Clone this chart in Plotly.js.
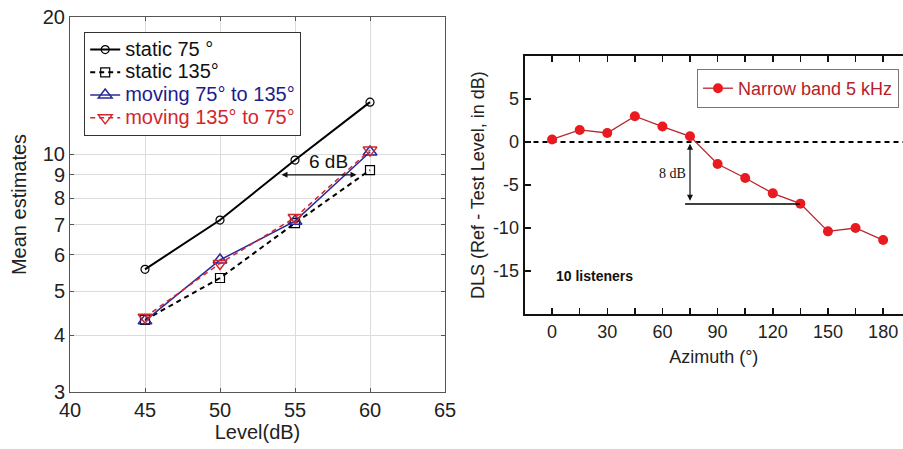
<!DOCTYPE html>
<html>
<head>
<meta charset="utf-8">
<script src="https://cdn.plot.ly/plotly-3.0.1.min.js"></script>
<style>html,body{margin:0;padding:0;background:#fff;}#chart{width:903px;height:449px;}</style>
</head>
<body>
<div id="chart"></div>
<script>
// ---- Left panel data ----
const levels = [45, 50, 55, 60];
const static75 = [5.58, 7.16, 9.70, 13.0];
const static135 = [4.32, 5.34, 7.05, 9.22];
const moving75to135 = [4.30, 5.85, 7.12, 10.1];
const moving135to75 = [4.38, 5.75, 7.25, 10.2];
const leftXTicks = [40, 45, 50, 55, 60, 65];
const leftYTicks = [3, 4, 5, 6, 7, 8, 9, 10, 20];
const leftNames = ['static 75 °', 'static 135°', 'moving 75° to 135°', 'moving 135° to 75°'];

// ---- Right panel data ----
const azimuth = [0, 15, 30, 45, 60, 75, 90, 105, 120, 135, 150, 165, 180];
const dls = [0.3, 1.4, 1.05, 3.0, 1.8, 0.66, -2.56, -4.19, -5.97, -7.17, -10.39, -10.0, -11.4];
const rightXTickVals = [0, 15, 30, 45, 60, 75, 90, 105, 120, 135, 150, 165, 180];
const rightXTickText = ['0', '', '30', '', '60', '', '90', '', '120', '', '150', '', '180'];
const rightYTickVals = [-15, -10, -5, 0, 5];
const rightYTickText = ['-15', '-10', '-5', '0', '5'];
const rightName = 'Narrow band 5 kHz';

const FONT = 'Liberation Sans, Arial, sans-serif';
const L = Math.log10;
const big = (t, c) => '<span style="font-size:20px;color:' + c + '">' + t + '</span>';

const traces = [
  {x: levels, y: static75, name: big(leftNames[0], '#111'), xaxis: 'x', yaxis: 'y', mode: 'lines+markers',
   line: {color: '#000', width: 2}, marker: {symbol: 'circle-open', size: 8, color: '#000', line: {width: 1.2}}},
  {x: levels, y: static135, name: big(leftNames[1], '#111'), xaxis: 'x', yaxis: 'y', mode: 'lines+markers',
   line: {color: '#000', width: 2, dash: '5px,4px'}, marker: {symbol: 'square-open', size: 9, color: '#000', line: {width: 1.2}}},
  {x: levels, y: moving75to135, name: big(leftNames[2], '#1c1c8c'), xaxis: 'x', yaxis: 'y', mode: 'lines+markers',
   line: {color: '#2a2a9a', width: 1.5}, marker: {symbol: 'triangle-up-open', size: 12, color: '#2a2a9a', line: {width: 1.5}}},
  {x: levels, y: moving135to75, name: big(leftNames[3], '#d3262e'), xaxis: 'x', yaxis: 'y', mode: 'lines+markers',
   line: {color: '#d3262e', width: 1.5, dash: '5px,4px'}, marker: {symbol: 'triangle-down-open', size: 12, color: '#d3262e', line: {width: 1.5}}},
  {x: azimuth, y: dls, name: rightName, xaxis: 'x2', yaxis: 'y2', mode: 'lines+markers', legend: 'legend2',
   line: {color: '#b8282e', width: 1.3}, marker: {symbol: 'circle', size: 10, color: '#ea1a20'}}
];

const layout = {
  width: 903, height: 449,
  margin: {l: 0, r: 0, t: 0, b: 0},
  paper_bgcolor: '#fff', plot_bgcolor: '#fff',
  font: {family: FONT, color: '#222'},
  showlegend: true,
  xaxis: {
    domain: [70/903, 445/903], range: [40, 65], anchor: 'y',
    tickvals: leftXTicks, ticks: 'inside', ticklen: 4, tickcolor: '#555',
    showgrid: true, gridcolor: '#dcdcdc', gridwidth: 1,
    showline: true, linecolor: '#555', linewidth: 1, mirror: 'ticks',
    zeroline: false, tickfont: {size: 20, family: FONT, color: '#222'},
    title: {text: 'Level(dB)', font: {size: 20, family: FONT, color: '#222'}, standoff: 4}
  },
  yaxis: {
    domain: [1 - 392/449, 1 - 17/449], type: 'log', range: [L(3), L(20)], anchor: 'x',
    tickvals: leftYTicks, ticktext: leftYTicks.map(String), ticks: 'inside', ticklen: 4, tickcolor: '#555',
    showgrid: true, gridcolor: '#dcdcdc', gridwidth: 1,
    showline: true, linecolor: '#555', linewidth: 1, mirror: 'ticks',
    zeroline: false, tickfont: {size: 20, family: FONT, color: '#222'},
    title: {text: 'Mean estimates', font: {size: 20, family: FONT, color: '#222'}, standoff: 10}
  },
  xaxis2: {
    domain: [524.5/903, 1], range: [-15, 190.8], anchor: 'y2',
    tickvals: rightXTickVals, ticktext: rightXTickText, ticks: 'inside', ticklen: 6, tickwidth: 1.5, tickcolor: '#111',
    showgrid: false, showline: true, linecolor: '#111', linewidth: 2, mirror: 'ticks',
    zeroline: false, tickfont: {size: 18, family: FONT, color: '#222'},
    title: {text: 'Azimuth (°)', font: {size: 18, family: FONT, color: '#222'}, standoff: 10}
  },
  yaxis2: {
    domain: [1 - 314/449, 1 - 56/449], range: [-20, 10], anchor: 'x2',
    tickvals: rightYTickVals, ticktext: rightYTickText, ticks: 'inside', ticklen: 6, tickwidth: 1.5, tickcolor: '#111',
    showgrid: false, showline: true, linecolor: '#111', linewidth: 2, mirror: false,
    zeroline: false, tickfont: {size: 18, family: FONT, color: '#222'},
    title: {text: 'DLS (Ref - Test Level, in dB)', font: {size: 18, family: FONT, color: '#222'}, standoff: 4}
  },
  legend: {
    x: 84/903, y: 1 - 32/449, xanchor: 'left', yanchor: 'top',
    bgcolor: '#fff', bordercolor: '#333', borderwidth: 1.2,
    font: {size: 15.2, family: FONT, color: '#111'}, tracegroupgap: 0, itemwidth: 30
  },
  legend2: {
    x: 697/903, y: 1 - 69/449, xanchor: 'left', yanchor: 'top',
    bgcolor: '#fff', bordercolor: '#777', borderwidth: 1,
    font: {size: 18, family: FONT, color: '#b42228'}, itemwidth: 30
  },
  shapes: [
    {type: 'line', xref: 'x', yref: 'y', x0: 40, x1: 65, y0: L(10), y1: L(10), line: {color: '#9a9a9a', width: 1}, layer: 'below'},
    {type: 'line', xref: 'x2', yref: 'y2', x0: -15, x1: 190.8, y0: 0, y1: 0, line: {color: '#000', width: 1.8, dash: '5px,4px'}, layer: 'below'},
    {type: 'line', xref: 'x2', yref: 'y2', x0: 72.3, x1: 134.7, y0: -7.2, y1: -7.2, line: {color: '#000', width: 1.5}}
  ],
  annotations: [
    {xref: 'x', yref: 'y', x: 57.2, y: L(9.65), text: '6 dB', showarrow: false, font: {size: 19, family: FONT, color: '#111'}},
    {xref: 'x', yref: 'y', axref: 'x', ayref: 'y', x: 54.1, y: L(9), ax: 59.2, ay: L(9), text: '', showarrow: true,
     arrowhead: 2, arrowside: 'end+start', arrowsize: 1, arrowwidth: 1.2, arrowcolor: '#111'},
    {xref: 'x2', yref: 'y2', axref: 'x2', ayref: 'y2', x: 75, y: -0.2, ax: 75, ay: -7.0, text: '', showarrow: true,
     arrowhead: 2, arrowside: 'end+start', arrowsize: 1, arrowwidth: 1.2, arrowcolor: '#111'},
    {xref: 'x2', yref: 'y2', x: 65.6, y: -3.64, text: '8 dB', showarrow: false, font: {size: 14, family: 'Liberation Serif, Times New Roman, serif', color: '#111'}},
    {xref: 'x2', yref: 'y2', x: 1.2, y: -15.6, xanchor: 'left', text: '<b>10 listeners</b>', showarrow: false, font: {size: 14, family: FONT, color: '#111'}}
  ]
};

Plotly.newPlot('chart', traces, layout, {displayModeBar: false, staticPlot: true});
</script>
</body>
</html>
